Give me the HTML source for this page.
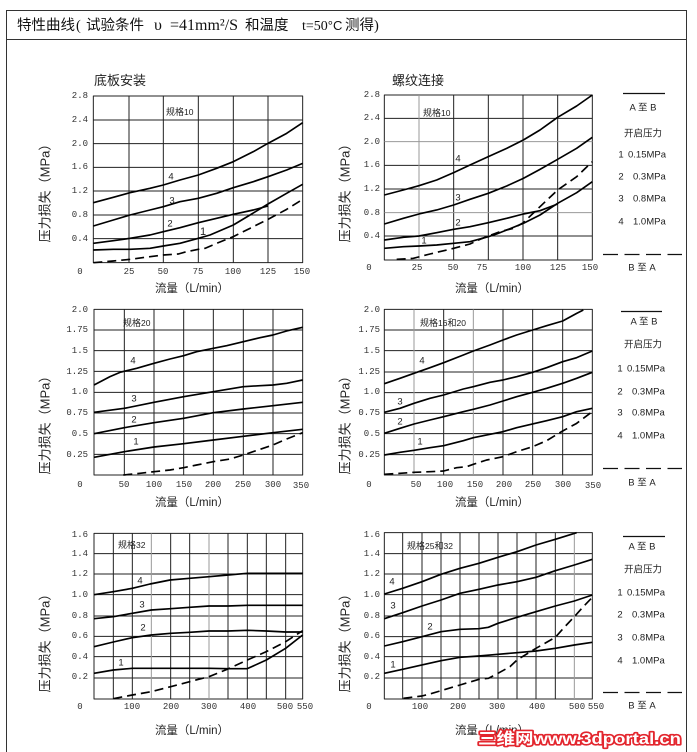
<!DOCTYPE html>
<html><head><meta charset="utf-8">
<style>
html,body{margin:0;padding:0;background:#fff;}
svg{display:block;}
.t{font-family:"Liberation Mono",monospace;font-size:9px;fill:#333;}
.c{font-family:"Liberation Sans","Noto Sans CJK SC",sans-serif;fill:#222;}
</style></head>
<body>
<svg width="697" height="752" viewBox="0 0 697 752" xmlns="http://www.w3.org/2000/svg">
<rect width="697" height="752" fill="#fff"/>
<!-- frame -->
<path d="M6.5 752 V10.5 H686.5 V752" fill="none" stroke="#333" stroke-width="1"/>
<line x1="6" y1="39.5" x2="687" y2="39.5" stroke="#333" stroke-width="1"/>
<!-- header -->
<text y="30" font-size="14.5" fill="#111" font-family="Liberation Serif,'Noto Sans CJK SC',serif"><tspan x="17" font-family="Liberation Sans,'Noto Sans CJK SC',sans-serif">特性曲线</tspan><tspan x="76">(</tspan><tspan x="86" font-family="Liberation Sans,'Noto Sans CJK SC',sans-serif">试验条件</tspan><tspan x="154" font-size="16">υ</tspan><tspan x="170" font-size="16">=41mm²/S</tspan><tspan x="245" font-family="Liberation Sans,'Noto Sans CJK SC',sans-serif">和温度</tspan><tspan x="302" font-size="14">t=50</tspan><tspan font-size="13" font-family="Liberation Sans,sans-serif">°C</tspan><tspan x="345" font-family="Liberation Sans,'Noto Sans CJK SC',sans-serif">测得</tspan><tspan x="374">)</tspan></text>

<!-- section titles -->
<text x="94" y="85" font-size="13" class="c">底板安装</text>
<text x="392" y="85" font-size="13" class="c">螺纹连接</text>

<g fill="none" stroke-linejoin="round" stroke-linecap="butt">
<!-- ===== Chart 1 ===== -->
<g transform="translate(30,80) scale(0.33333)">
<g stroke="#222" stroke-width="3">
<rect x="190" y="48" width="628" height="500"/>
<path d="M297 48V548M400 48V548M505 48V548M610 48V548M714 48V548M190 120H818M190 191H818M190 262H818M190 333H818M190 405H818M190 476H818"/>
</g>
<g stroke="#000" stroke-width="5">
<polyline points="190,368 250,352 300,338 360,325 400,315 450,300 505,285 560,265 610,245 670,215 714,190 770,160 818,128"/>
<polyline points="190,438 250,420 300,405 360,390 400,380 450,365 505,355 560,340 610,323 670,305 714,290 770,270 818,250"/>
<polyline points="190,490 250,482 300,475 360,465 400,455 450,443 505,428 560,415 610,403 670,390 714,378"/>
<polyline points="190,510 250,508 300,508 360,505 400,498 450,490 505,475 540,465 610,435 660,405 714,372 770,340 818,313"/>
<polyline stroke-dasharray="27 15" points="190,548 250,543 300,538 360,530 400,525 445,522 470,515 505,508 525,505 560,490 610,470 660,445 714,418 770,388 818,358"/>
</g>
</g>
<!-- ===== Chart 2 ===== -->
<g transform="translate(330,80) scale(0.33333)">
<g stroke="#222" stroke-width="3">
<rect x="163" y="45" width="624" height="495"/>
<path d="M371 45V540M475 45V540M579 45V540M683 45V540M163 115H787M163 256H787M163 327H787M163 468H787"/>
</g>
<g stroke="#999" stroke-width="3">
<path d="M267 45V540M163 185H787M163 398H787"/>
</g>
<g stroke="#000" stroke-width="5">
<polyline points="163,345 220,330 267,317 320,300 371,278 420,255 475,230 530,205 580,180 630,150 683,112 740,78 787,45"/>
<polyline points="163,432 220,415 267,402 320,390 371,375 420,358 475,340 530,318 580,295 630,268 683,238 740,205 787,172"/>
<polyline points="163,480 220,472 267,468 320,458 371,448 420,440 475,428 530,415 580,402 630,392 683,372"/>
<polyline points="163,505 220,500 267,498 320,495 371,490 420,485 475,470 500,462 530,450 580,430 630,405 683,370 740,338 787,305"/>
<polyline stroke-dasharray="27 15" points="200,538 250,535 300,522 371,505 420,492 450,478 475,468 510,455 550,445 580,428 630,380 683,330 740,290 787,245"/>
</g>
</g>
<!-- ===== Chart 3 ===== -->
<g transform="translate(30,295) scale(0.33333)">
<g stroke="#222" stroke-width="3">
<rect x="192" y="43" width="626" height="497"/>
<path d="M283 43V540M372 43V540M461 43V540M550 43V540M640 43V540M729 43V540M192 105H818M192 167H818M192 229H818M192 292H818M192 354H818M192 416H818M192 478H818"/>
</g>
<g stroke="#000" stroke-width="5">
<polyline points="192,270 240,245 270,232 320,220 372,205 420,192 461,182 500,170 550,160 590,152 640,140 690,128 729,120 770,108 818,97"/>
<polyline points="192,352 283,340 372,322 461,305 550,290 640,275 690,272 729,270 770,265 818,255"/>
<polyline points="192,416 283,398 372,383 461,370 550,353 640,342 729,332 818,322"/>
<polyline points="192,487 283,470 372,456 461,446 550,435 640,424 729,413 818,403"/>
<polyline stroke-dasharray="27 15" points="280,540 330,535 372,530 420,525 461,518 500,510 550,500 600,492 640,480 690,463 729,450 770,432 818,413"/>
</g>
</g>
<!-- ===== Chart 4 ===== -->
<g transform="translate(330,295) scale(0.33333)">
<g stroke="#222" stroke-width="3">
<rect x="163" y="43" width="624" height="497"/>
<path d="M341 43V540M519 43V540M608 43V540M698 43V540M163 105H787M163 167H787M163 231H787M163 293H787M163 355H787M163 416H787M163 479H787"/>
</g>
<g stroke="#999" stroke-width="3">
<path d="M252 43V540M430 43V540"/>
</g>
<g stroke="#000" stroke-width="5">
<polyline points="163,266 210,250 252,235 300,218 341,203 400,180 430,168 480,150 519,135 560,120 608,105 650,92 698,78 740,55 760,45"/>
<polyline points="163,352 210,340 252,325 300,310 341,300 400,282 430,275 480,262 519,255 560,245 608,232 650,218 698,200 740,188 787,168"/>
<polyline points="163,415 210,400 252,387 300,375 341,365 400,350 430,343 480,330 519,318 560,305 608,292 650,280 698,265 740,250 787,232"/>
<polyline points="163,480 210,472 252,466 300,458 341,452 400,437 430,428 480,418 519,410 560,398 608,387 650,377 698,365 740,350 787,340"/>
<polyline stroke-dasharray="27 15" points="163,538 210,535 252,532 300,530 341,528 380,518 410,515 430,508 470,495 519,485 560,470 608,455 650,437 698,408 740,385 787,350"/>
</g>
</g>
<!-- ===== Chart 5 ===== -->
<g transform="translate(30,520) scale(0.33333)">
<g stroke="#222" stroke-width="3">
<rect x="192" y="40" width="626" height="497"/>
<path d="M250 40V537M307 40V537M422 40V537M479 40V537M594 40V537M652 40V537M709 40V537M767 40V537M192 101H818M192 162H818M192 224H818M192 288H818M192 349H818M192 410H818M192 474H818"/>
</g>
<g stroke="#999" stroke-width="3">
<path d="M364 40V537M537 40V537"/>
</g>
<g stroke="#000" stroke-width="5">
<polyline points="192,224 250,215 307,205 360,192 420,180 479,175 537,170 594,165 652,160 700,160 818,160"/>
<polyline points="192,296 250,290 307,280 364,270 422,266 479,262 537,258 594,258 652,256 818,256"/>
<polyline points="192,380 250,366 307,353 364,345 422,340 479,337 537,333 594,333 652,331 709,333 767,336 818,336"/>
<polyline points="192,460 250,450 307,445 364,445 422,445 479,445 537,445 594,446 652,446 709,420 767,385 818,345"/>
<polyline stroke-dasharray="27 15" points="250,536 307,525 364,515 422,500 479,485 537,470 594,447 652,420 709,395 767,365 818,332"/>
</g>
</g>
<!-- ===== Chart 6 ===== -->
<g transform="translate(330,520) scale(0.33333)">
<g stroke="#222" stroke-width="3">
<rect x="163" y="38" width="624" height="499"/>
<path d="M218 38V537M276 38V537M333 38V537M390 38V537M447 38V537M504 38V537M561 38V537M618 38V537M676 38V537M163 101H787M163 162H787M163 224H787M163 288H787M163 350H787M163 410H787M163 474H787"/>
</g>
<g stroke="#999" stroke-width="3">
<path d="M733 38V537"/>
</g>
<g stroke="#000" stroke-width="5">
<polyline points="163,222 218,205 276,185 333,163 390,145 447,130 504,112 561,95 618,75 676,58 740,38"/>
<polyline points="163,296 218,278 276,258 333,240 390,220 447,208 504,195 561,185 618,172 676,152 733,135 787,118"/>
<polyline points="163,378 218,365 276,350 333,335 390,328 447,326 475,322 504,310 561,292 618,275 676,258 733,243 787,225"/>
<polyline points="163,460 218,448 276,435 333,422 390,412 447,408 504,403 561,398 618,393 676,385 733,375 787,367"/>
<polyline stroke-dasharray="27 15" points="220,535 276,528 300,522 333,512 390,495 447,478 475,475 504,460 540,440 561,420 618,385 676,352 700,325 733,290 760,260 787,232"/>
</g>
</g>

<!-- legends lines -->
<g stroke="#111" stroke-width="1.2">
<line x1="623" y1="93.5" x2="665" y2="93.5"/>
<line x1="603" y1="254.5" x2="682" y2="254.5" stroke-dasharray="15 6.5"/>
<line x1="621" y1="311.5" x2="662" y2="311.5"/>
<line x1="603" y1="468.5" x2="682" y2="468.5" stroke-dasharray="15 6.5"/>
<line x1="623" y1="536.5" x2="665" y2="536.5"/>
<line x1="603" y1="692.5" x2="682" y2="692.5" stroke-dasharray="15 6.5"/>
</g>
</g>

<!-- tick labels -->
<g class="t" text-anchor="end" dominant-baseline="central">
<text x="88" y="96">2.8</text><text x="88" y="120">2.4</text><text x="88" y="144">2.0</text><text x="88" y="167">1.6</text><text x="88" y="191">1.2</text><text x="88" y="215">0.8</text><text x="88" y="239">0.4</text>
<text x="380" y="95">2.8</text><text x="380" y="118">2.4</text><text x="380" y="142">2.0</text><text x="380" y="165">1.6</text><text x="380" y="189">1.2</text><text x="380" y="213">0.8</text><text x="380" y="236">0.4</text>
<text x="88" y="310">2.0</text><text x="88" y="330">1.75</text><text x="88" y="351">1.5</text><text x="88" y="372">1.25</text><text x="88" y="392">1.0</text><text x="88" y="413">0.75</text><text x="88" y="434">0.5</text><text x="88" y="455">0.25</text>
<text x="380" y="310">2.0</text><text x="380" y="330">1.75</text><text x="380" y="351">1.5</text><text x="380" y="372">1.25</text><text x="380" y="392">1.0</text><text x="380" y="413">0.75</text><text x="380" y="434">0.5</text><text x="380" y="455">0.25</text>
<text x="88" y="535">1.6</text><text x="88" y="554">1.4</text><text x="88" y="574">1.2</text><text x="88" y="595">1.0</text><text x="88" y="616">0.8</text><text x="88" y="636">0.6</text><text x="88" y="657">0.4</text><text x="88" y="677">0.2</text>
<text x="380" y="535">1.6</text><text x="380" y="554">1.4</text><text x="380" y="574">1.2</text><text x="380" y="595">1.0</text><text x="380" y="616">0.8</text><text x="380" y="636">0.6</text><text x="380" y="657">0.4</text><text x="380" y="677">0.2</text>
</g>
<g class="t" text-anchor="middle" dominant-baseline="central">
<text x="80" y="272">0</text><text x="129" y="272">25</text><text x="163" y="272">50</text><text x="198" y="272">75</text><text x="233" y="272">100</text><text x="268" y="272">125</text><text x="302" y="272">150</text>
<text x="369" y="268">0</text><text x="417" y="268">25</text><text x="453" y="268">50</text><text x="482" y="268">75</text><text x="523" y="268">100</text><text x="558" y="268">125</text><text x="590" y="268">150</text>
<text x="80" y="485">0</text><text x="124" y="485">50</text><text x="154" y="485">100</text><text x="184" y="485">150</text><text x="213" y="485">200</text><text x="243" y="485">250</text><text x="273" y="485">300</text><text x="301" y="486">350</text>
<text x="369" y="485">0</text><text x="416" y="485">50</text><text x="445" y="485">100</text><text x="475" y="485">150</text><text x="504" y="485">200</text><text x="533" y="485">250</text><text x="563" y="485">300</text><text x="593" y="486">350</text>
<text x="80" y="707">0</text><text x="132" y="707">100</text><text x="171" y="707">200</text><text x="209" y="707">300</text><text x="248" y="707">400</text><text x="285" y="707">500</text><text x="305" y="707">550</text>
<text x="369" y="707">0</text><text x="420" y="707">100</text><text x="458" y="707">200</text><text x="497" y="707">300</text><text x="537" y="707">400</text><text x="577" y="707">500</text><text x="596" y="707">550</text>
</g>

<!-- axis titles -->
<g class="c" font-size="11.5" text-anchor="middle" dominant-baseline="central">
<text x="192" y="289">流量（L/min）</text>
<text x="492" y="289">流量（L/min）</text>
<text x="192" y="503">流量（L/min）</text>
<text x="492" y="503">流量（L/min）</text>
<text x="192" y="731">流量（L/min）</text>
<text x="492" y="731">流量（L/min）</text>
</g>
<g class="c" font-size="13" text-anchor="middle" dominant-baseline="central">
<text transform="translate(45,190) rotate(-90)">压力损失（MPa）</text>
<text transform="translate(345,190) rotate(-90)">压力损失（MPa）</text>
<text transform="translate(45,422) rotate(-90)">压力损失（MPa）</text>
<text transform="translate(345,422) rotate(-90)">压力损失（MPa）</text>
<text transform="translate(45,640) rotate(-90)">压力损失（MPa）</text>
<text transform="translate(345,640) rotate(-90)">压力损失（MPa）</text>
</g>

<!-- size labels -->
<g class="c" font-size="9" dominant-baseline="central" fill="#111">
<text x="166" y="112">规格<tspan font-size="8.5">10</tspan></text>
<text x="423" y="113">规格<tspan font-size="8.5">10</tspan></text>
<text x="123" y="323">规格<tspan font-size="8.5">20</tspan></text>
<text x="420" y="323">规格<tspan font-size="8.5">16</tspan>和<tspan font-size="8.5">20</tspan></text>
<text x="118" y="545">规格<tspan font-size="8.5">32</tspan></text>
<text x="407" y="546">规格<tspan font-size="8.5">25</tspan>和<tspan font-size="8.5">32</tspan></text>
</g>

<!-- curve numbers -->
<g class="c" font-size="9.5" text-anchor="middle" dominant-baseline="central" fill="#111">
<text x="171" y="177">4</text><text x="172" y="201">3</text><text x="170" y="224">2</text><text x="203" y="232" font-size="11">1</text>
<text x="458" y="159">4</text><text x="458" y="198">3</text><text x="458" y="223">2</text><text x="424" y="241">1</text>
<text x="133" y="361">4</text><text x="134" y="399">3</text><text x="134" y="420">2</text><text x="136" y="442">1</text>
<text x="422" y="361">4</text><text x="400" y="402">3</text><text x="400" y="422">2</text><text x="420" y="442">1</text>
<text x="140" y="581">4</text><text x="142" y="605">3</text><text x="143" y="628">2</text><text x="121" y="663">1</text>
<text x="392" y="582">4</text><text x="393" y="606">3</text><text x="430" y="627">2</text><text x="393" y="665">1</text>
</g>

<!-- legends text -->
<g class="c" font-size="9.5" dominant-baseline="central" fill="#222">
<g>
<text x="643" y="108" text-anchor="middle">A 至 B</text>
<text x="643" y="134" text-anchor="middle">开启压力</text>
<text x="621" y="155" text-anchor="middle">1</text><text x="628" y="155">0.15MPa</text>
<text x="621" y="177" text-anchor="middle">2</text><text x="633" y="177">0.3MPa</text>
<text x="621" y="199" text-anchor="middle">3</text><text x="633" y="199">0.8MPa</text>
<text x="621" y="222" text-anchor="middle">4</text><text x="633" y="222">1.0MPa</text>
<text x="642" y="268" text-anchor="middle">B 至 A</text>
</g>
<g>
<text x="644" y="322" text-anchor="middle">A 至 B</text>
<text x="643" y="345" text-anchor="middle">开启压力</text>
<text x="620" y="369" text-anchor="middle">1</text><text x="627" y="369">0.15MPa</text>
<text x="620" y="392" text-anchor="middle">2</text><text x="632" y="392">0.3MPa</text>
<text x="620" y="413" text-anchor="middle">3</text><text x="632" y="413">0.8MPa</text>
<text x="620" y="436" text-anchor="middle">4</text><text x="632" y="436">1.0MPa</text>
<text x="642" y="483" text-anchor="middle">B 至 A</text>
</g>
<g>
<text x="642" y="547" text-anchor="middle">A 至 B</text>
<text x="643" y="570" text-anchor="middle">开启压力</text>
<text x="620" y="593" text-anchor="middle">1</text><text x="627" y="593">0.15MPa</text>
<text x="620" y="615" text-anchor="middle">2</text><text x="632" y="615">0.3MPa</text>
<text x="620" y="638" text-anchor="middle">3</text><text x="632" y="638">0.8MPa</text>
<text x="620" y="661" text-anchor="middle">4</text><text x="632" y="661">1.0MPa</text>
<text x="642" y="706" text-anchor="middle">B 至 A</text>
</g>
</g>

<!-- watermark -->
<text x="478" y="744" font-size="16" font-weight="bold" fill="#fff" stroke="#e3262e" stroke-width="3.2" paint-order="stroke" stroke-linejoin="round" font-family="Liberation Sans,'Noto Sans CJK SC',sans-serif" textLength="203" lengthAdjust="spacingAndGlyphs">三维网www.3dportal.cn</text>
</svg>
</body></html>
